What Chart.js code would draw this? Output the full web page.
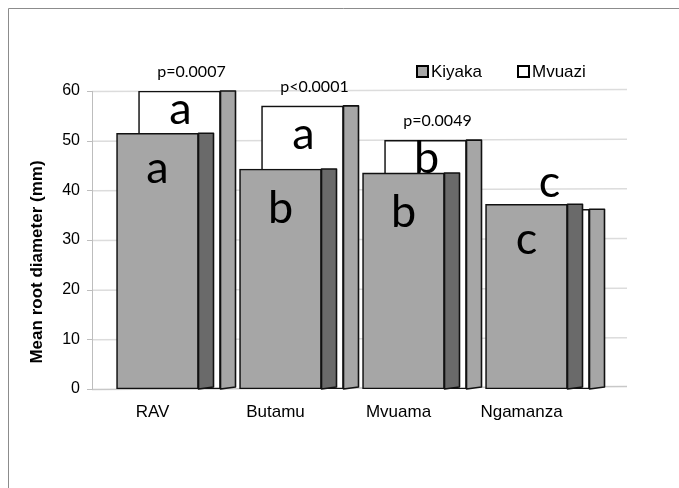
<!DOCTYPE html>
<html>
<head>
<meta charset="utf-8">
<style>
  html, body { margin: 0; padding: 0; background: #ffffff; }
  #wrap { width: 679px; height: 488px; position: relative; }
  canvas { display: block; }
</style>
<script src="https://cdn.jsdelivr.net/npm/chart.js@4.4.1/dist/chart.umd.min.js"></script>
</head>
<body>
<div id="wrap"><canvas id="chart" width="679" height="488"></canvas></div>
<script>
// Mean root diameter per site, for the two stations
const categories = ['RAV', 'Butamu', 'Mvuama', 'Ngamanza'];
const kiyaka = [51.5, 44.3, 43.5, 37.2];
const mvuazi = [60.0, 57.0, 50.1, 36.2];
const kiyakaLetters = ['a', 'b', 'b', 'c'];
const mvuaziLetters = ['a', 'a', 'b', 'c'];
const pValues = ['p=0.0007', 'p<0.0001', 'p=0.0049', ''];
const yTicks = [0, 10, 20, 30, 40, 50, 60];
const seriesNames = ['Kiyaka', 'Mvuazi'];

// drawing constants for the pseudo-3D columns
const DEPTH_X = 22;      // back series shifted right
const SIDE_W = 15;       // width of the visible side face
const AXIS_X = 92;       // x of the value axis line
const GRID_RIGHT = 627;  // right end of the gridlines
const FRONT_FILL = '#a6a6a6';
const FRONT_SIDE = '#6a6a6a';
const BACK_FILL = '#ffffff';
const BACK_SIDE = '#a6a6a6';
const EDGE = '#111111';

function drawSide(ctx, el, color) {
  const p = el.getProps(['x', 'y', 'base', 'width'], true);
  const xr = p.x + p.width / 2;
  ctx.beginPath();
  ctx.moveTo(xr, p.y);
  ctx.lineTo(xr + SIDE_W, p.y);
  ctx.lineTo(xr + SIDE_W, p.base - 2);
  ctx.lineTo(xr, p.base);
  ctx.closePath();
  ctx.fillStyle = color;
  ctx.fill();
  ctx.lineWidth = 1.6;
  ctx.strokeStyle = EDGE;
  ctx.lineJoin = 'round';
  ctx.stroke();
}

function drawCenteredGlyph(ctx, text, cx, cy) {
  const m = ctx.measureText(text);
  const asc = m.actualBoundingBoxAscent, desc = m.actualBoundingBoxDescent;
  ctx.textAlign = 'center';
  ctx.textBaseline = 'alphabetic';
  ctx.fillText(text, cx, cy + (asc - desc) / 2);
}

const decor = {
  id: 'decor',
  beforeDatasetsDraw(chart) {
    const { ctx } = chart;
    const y = chart.scales.y;
    ctx.save();
    // frame
    ctx.strokeStyle = '#8c8c8c';
    ctx.lineWidth = 1;
    ctx.beginPath();
    ctx.moveTo(8.5, 488);
    ctx.lineTo(8.5, 8.5);
    ctx.lineTo(679, 8.5);
    ctx.stroke();
    // gridlines
    ctx.strokeStyle = '#dcdcdc';
    ctx.lineWidth = 1.5;
    yTicks.forEach(v => {
      if (v === 0) return;
      const py = y.getPixelForValue(v);
      ctx.beginPath();
      ctx.moveTo(AXIS_X, py + 0.5);
      ctx.lineTo(GRID_RIGHT, py - 1.5);
      ctx.stroke();
    });
    // floor edge
    const y0 = y.getPixelForValue(0);
    ctx.strokeStyle = '#c8c8c8';
    ctx.beginPath();
    ctx.moveTo(AXIS_X, y0 + 0.5);
    ctx.lineTo(GRID_RIGHT, y0 - 2.5);
    ctx.stroke();
    // value axis with tick marks
    ctx.strokeStyle = '#bdbdbd';
    ctx.lineWidth = 1;
    ctx.beginPath();
    ctx.moveTo(AXIS_X + 0.5, y.getPixelForValue(60));
    ctx.lineTo(AXIS_X + 0.5, y0 + 0.5);
    yTicks.forEach(v => {
      const py = Math.round(y.getPixelForValue(v)) + 0.5;
      ctx.moveTo(AXIS_X - 5, py);
      ctx.lineTo(AXIS_X + 0.5, py);
    });
    ctx.stroke();
    ctx.restore();
  },
  beforeDatasetDraw(chart, args) {
    if (args.index === 1) {
      chart.ctx.save();
      chart.ctx.translate(DEPTH_X, 0);
    }
  },
  afterDatasetDraw(chart, args) {
    const ctx = chart.ctx;
    const color = args.index === 0 ? FRONT_SIDE : BACK_SIDE;
    ctx.save();
    args.meta.data.forEach(el => drawSide(ctx, el, color));
    ctx.restore();
    if (args.index === 1) ctx.restore();
  },
  afterDatasetsDraw(chart) {
    const { ctx } = chart;
    const y = chart.scales.y;
    const front = chart.getDatasetMeta(0).data;
    ctx.save();
    ctx.fillStyle = '#000000';

    // group letters
    ctx.font = '45px Lato';
    categories.forEach((c, i) => {
      const cx = front[i].x;
      const yk = y.getPixelForValue(kiyaka[i]);
      const ym = y.getPixelForValue(mvuazi[i]);
      drawCenteredGlyph(ctx, kiyakaLetters[i], cx, yk + 38);
      const my = mvuazi[i] > kiyaka[i] ? (ym + yk) / 2 : Math.min(ym, yk) - 19;
      drawCenteredGlyph(ctx, mvuaziLetters[i], cx + DEPTH_X + 1, my);
    });

    // p-values above each pair
    ctx.font = '16px Lato';
    ctx.textAlign = 'center';
    ctx.textBaseline = 'alphabetic';
    categories.forEach((c, i) => {
      if (!pValues[i]) return;
      const top = y.getPixelForValue(Math.max(kiyaka[i], mvuazi[i]));
      ctx.fillText(pValues[i], front[i].x + 34, top - 14);
    });

    // legend
    ctx.font = '17px "Liberation Sans"';
    ctx.textAlign = 'left';
    const legendItems = [
      { name: seriesNames[0], fill: FRONT_FILL, x: 417 },
      { name: seriesNames[1], fill: BACK_FILL, x: 518 }
    ];
    legendItems.forEach(it => {
      ctx.fillStyle = it.fill;
      ctx.fillRect(it.x, 66, 11, 11);
      ctx.strokeStyle = '#000000';
      ctx.lineWidth = 2;
      ctx.strokeRect(it.x, 66, 11, 11);
      ctx.fillStyle = '#000000';
      ctx.fillText(it.name, it.x + 14, 77);
    });

    // value axis title
    ctx.font = 'bold 17px "Liberation Sans"';
    ctx.translate(37, 262);
    ctx.rotate(-Math.PI / 2);
    ctx.textAlign = 'center';
    ctx.textBaseline = 'middle';
    ctx.fillText('Mean root diameter (mm)', 0, 0);
    ctx.restore();
  }
};

new Chart(document.getElementById('chart'), {
  type: 'bar',
  data: {
    labels: categories,
    datasets: [
      {
        label: seriesNames[0],
        data: kiyaka,
        backgroundColor: FRONT_FILL,
        borderColor: EDGE,
        borderWidth: 1.6,
        borderSkipped: false,
        grouped: false,
        barThickness: 82
      },
      {
        label: seriesNames[1],
        data: mvuazi,
        backgroundColor: BACK_FILL,
        borderColor: EDGE,
        borderWidth: 1.6,
        borderSkipped: false,
        grouped: false,
        barThickness: 82
      }
    ]
  },
  options: {
    responsive: false,
    animation: false,
    devicePixelRatio: 1,
    layout: { padding: { top: 91, right: 91, left: 0, bottom: 0 } },
    plugins: {
      legend: { display: false },
      tooltip: { enabled: false }
    },
    scales: {
      x: {
        offset: true,
        grid: { display: false, drawTicks: false },
        border: { display: false },
        ticks: {
          color: '#000000',
          font: { family: 'Liberation Sans', size: 17 },
          padding: 13,
          labelOffset: -5,
          maxRotation: 0
        },
        afterFit(scale) { scale.height = 99; }
      },
      y: {
        min: 0,
        max: 60,
        grid: { display: false, drawTicks: false },
        border: { display: false },
        ticks: {
          stepSize: 10,
          padding: 16,
          color: '#000000',
          font: { family: 'Liberation Sans', size: 16 }
        },
        afterFit(scale) { scale.width = 96; }
      }
    }
  },
  plugins: [decor]
});
</script>
</body>
</html>
